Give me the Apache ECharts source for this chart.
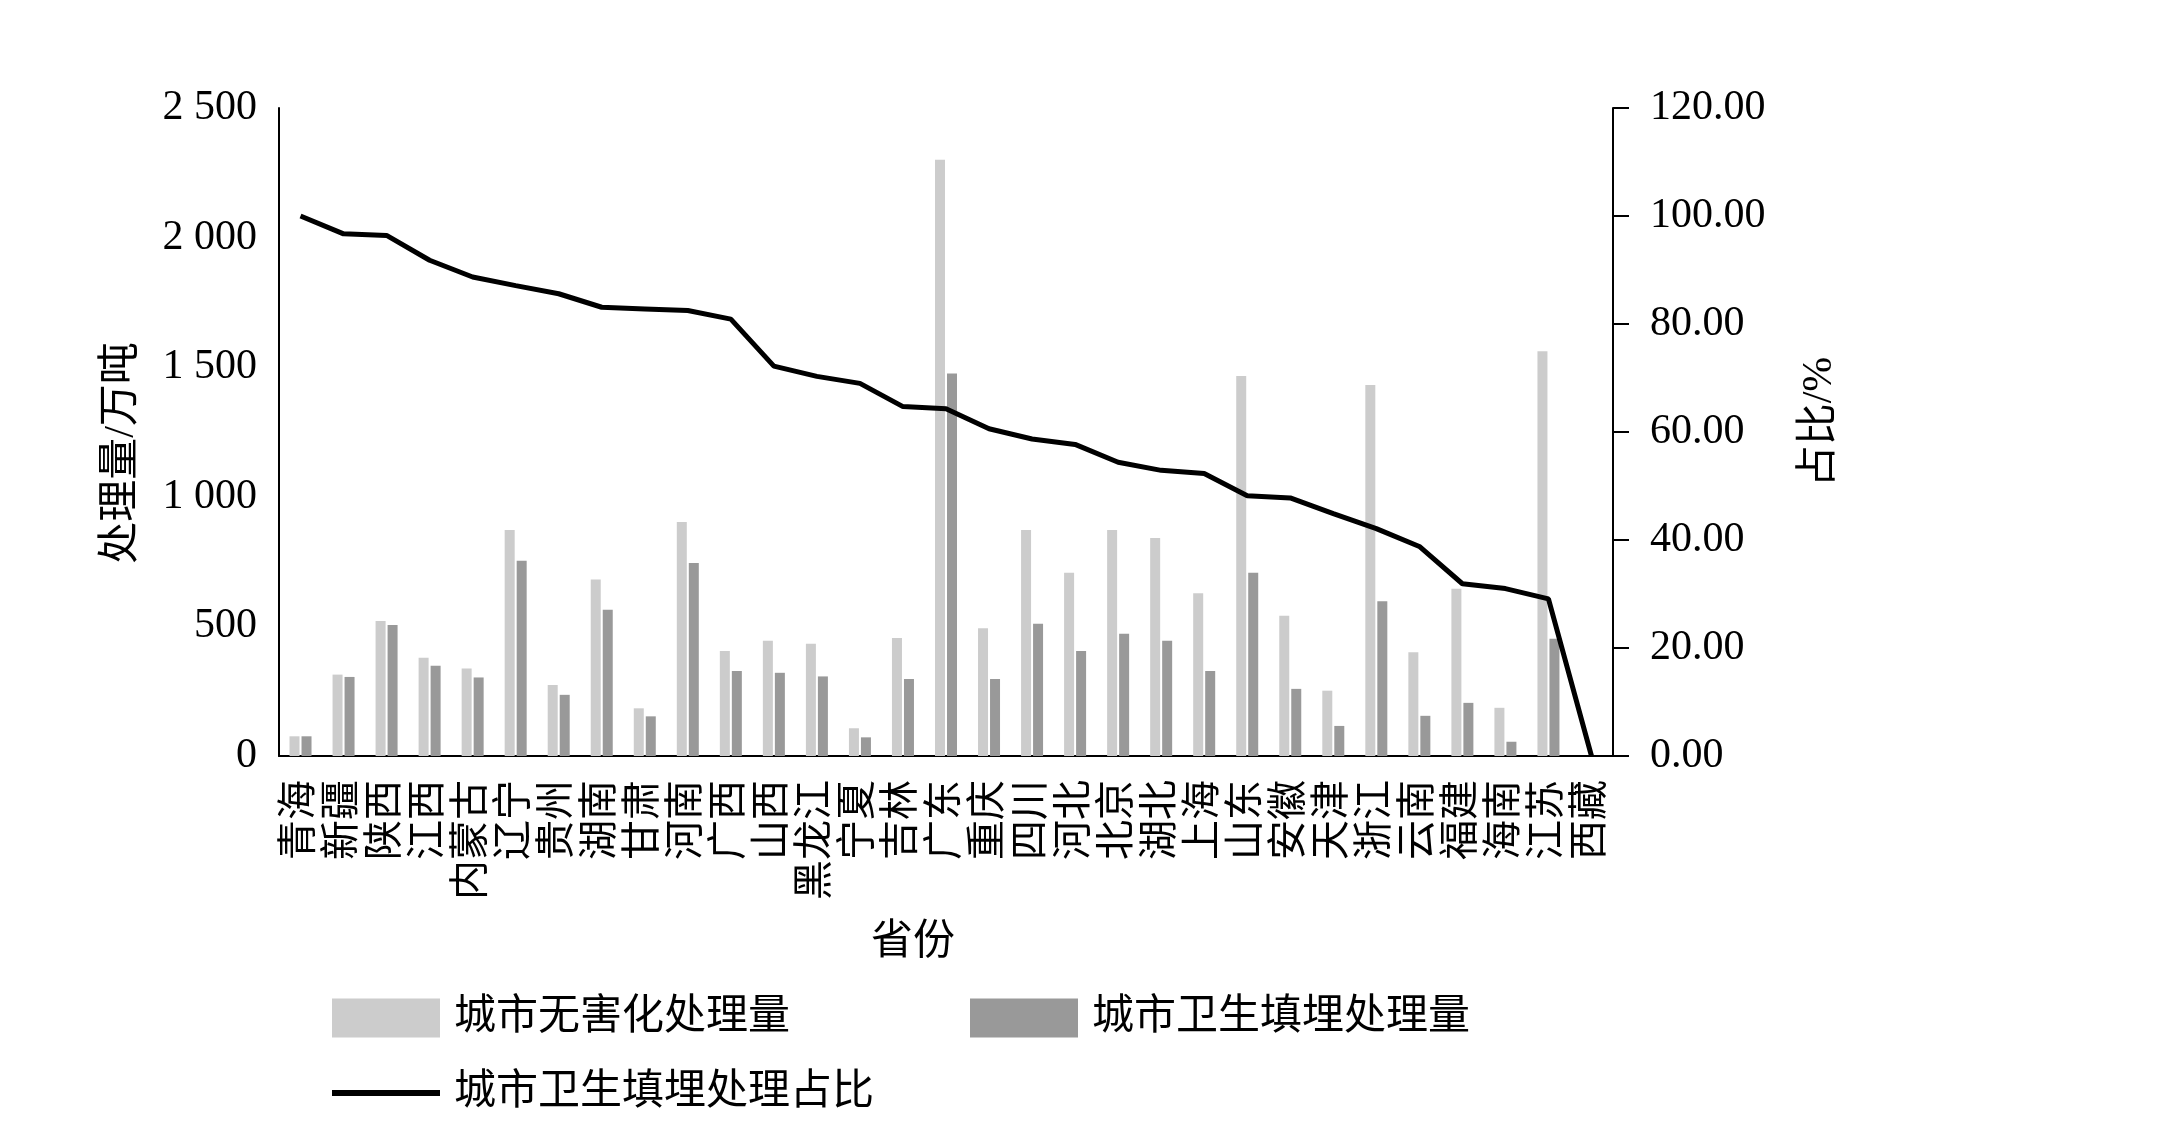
<!DOCTYPE html>
<html>
<head>
<meta charset="utf-8">
<script src="https://cdn.jsdelivr.net/npm/echarts@6/dist/echarts.min.js"></script>
<style>
html,body{margin:0;padding:0;background:#fff;}
#chart{width:2160px;height:1122px;}
</style>
</head>
<body>
<div id="chart"></div>
<script>
const provinces = ['青海','新疆','陕西','江西','内蒙古','辽宁','贵州','湖南','甘肃','河南','广西','山西','黑龙江','宁夏','吉林','广东','重庆','四川','河北','北京','湖北','上海','山东','安徽','天津','浙江','云南','福建','海南','江苏','西藏'];
const harmlessAmount = [76,314,521,379,338,872,274,681,184,903,405,445,433,107,455,2300,493,872,707,872,841,628,1466,541,252,1431,400,645,186,1562,0];
const landfillAmount = [76,305,505,348,303,753,236,564,153,745,328,321,307,72,297,1476,297,510,405,472,445,328,707,259,116,597,155,205,55,452,0];
const landfillShare = [100.0,96.7,96.4,91.8,88.7,87.1,85.6,83.1,82.8,82.5,80.9,72.2,70.3,69.0,64.7,64.3,60.6,58.7,57.7,54.4,52.9,52.3,48.2,47.8,44.9,42.1,38.8,31.9,31.0,29.1,0];
const leftTickLabels = ['0','500','1 000','1 500','2 000','2 500'];
const seriesNames = ['城市无害化处理量','城市卫生填埋处理量','城市卫生填埋处理占比'];

const FONT = "'Liberation Serif', 'Noto Sans CJK SC', serif";
const chart = echarts.init(document.getElementById('chart'));
chart.setOption({
  backgroundColor: '#ffffff',
  animation: false,
  textStyle: { fontFamily: FONT, color: '#000' },
  grid: { left: 279, right: 547, top: 108, bottom: 366 },
  legend: [
    {
      data: [seriesNames[0], seriesNames[1]],
      left: 332, top: 997, padding: 0,
      itemWidth: 108, itemHeight: 39, itemGap: 180,
      icon: 'rect',
      textStyle: { fontFamily: FONT, fontSize: 42, color: '#000', padding: [0,0,0,9] }
    },
    {
      data: [seriesNames[2]],
      left: 332, top: 1072, padding: 0,
      itemWidth: 108, itemHeight: 6,
      icon: 'rect',
      itemStyle: { color: '#000' },
      textStyle: { fontFamily: FONT, fontSize: 42, color: '#000', padding: [0,0,0,9] }
    }
  ],
  xAxis: {
    type: 'category',
    data: provinces,
    name: '省份',
    nameLocation: 'middle',
    nameGap: 166,
    nameTextStyle: { fontFamily: FONT, fontSize: 42, color: '#000', padding: [0,66,0,0] },
    axisLine: { lineStyle: { color: '#000', width: 2 } },
    axisTick: { show: false },
    axisLabel: { rotate: 90, interval: 0, margin: 24, fontFamily: FONT, fontSize: 40, color: '#000' }
  },
  yAxis: [
    {
      type: 'value', min: 0, max: 2500, interval: 500,
      name: '处理量/万吨', nameLocation: 'middle', nameRotate: 90, nameGap: 136,
      nameTextStyle: { fontFamily: FONT, fontSize: 42, color: '#000', padding: [0,42,0,0] },
      axisLine: { show: true, lineStyle: { color: '#000', width: 2 } },
      axisTick: { show: false },
      splitLine: { show: false },
      axisLabel: { margin: 22, fontFamily: FONT, fontSize: 42, color: '#000',
        formatter: (v, i) => leftTickLabels[Math.round(v / 500)] }
    },
    {
      type: 'value', min: 0, max: 120, interval: 20, position: 'right',
      name: '占比/%', nameLocation: 'middle', nameRotate: 90, nameGap: 186,
      nameTextStyle: { fontFamily: FONT, fontSize: 42, color: '#000', padding: [0,0,0,20] },
      axisLine: { show: true, lineStyle: { color: '#000', width: 2 } },
      axisTick: { show: true, length: 16, inside: false, lineStyle: { color: '#000', width: 2 } },
      splitLine: { show: false },
      axisLabel: { margin: 37, fontFamily: FONT, fontSize: 42, color: '#000',
        formatter: v => v.toFixed(2) }
    }
  ],
  series: [
    {
      name: seriesNames[0], type: 'bar', data: harmlessAmount,
      barWidth: 10, barGap: '20%',
      itemStyle: { color: '#cccccc' }
    },
    {
      name: seriesNames[1], type: 'bar', data: landfillAmount,
      barWidth: 10, barGap: '20%',
      itemStyle: { color: '#999999' }
    },
    {
      name: seriesNames[2], type: 'line', data: landfillShare, yAxisIndex: 1,
      symbol: 'none', z: 5,
      lineStyle: { color: '#000', width: 5 },
      itemStyle: { color: '#000' }
    }
  ]
});
</script>
</body>
</html>
